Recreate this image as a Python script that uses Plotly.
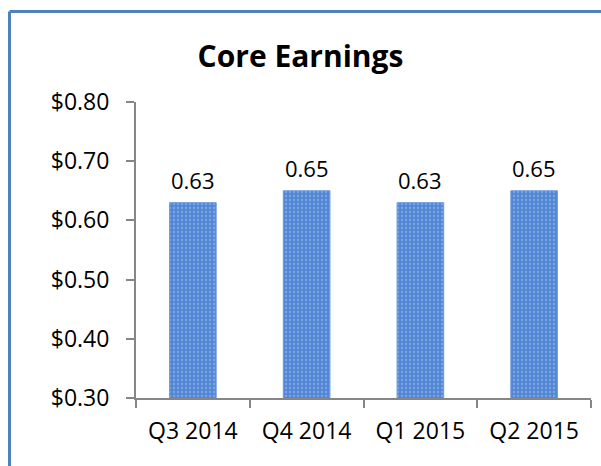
import plotly.graph_objects as go

categories = ["Q3 2014", "Q4 2014", "Q1 2015", "Q2 2015"]
values = [0.63, 0.65, 0.63, 0.65]
labels = ["0.63", "0.65", "0.63", "0.65"]
y_ticks = [0.30, 0.40, 0.50, 0.60, 0.70, 0.80]
y_ticktext = ["$0.30", "$0.40", "$0.50", "$0.60", "$0.70", "$0.80"]

L, R, T, B = 136, 10, 102, 68
W, H = 601, 466
pw, ph = W - L - R, H - T - B

fig = go.Figure(go.Bar(
    x=categories, y=values,
    width=0.41,
    marker=dict(color="#5387D6", line=dict(color="#6E9BDC", width=1),
                pattern=dict(shape=".", fgcolor="#A9C4EE", bgcolor="#5387D6",
                             size=4, solidity=0.25)),
))

for c, v, t in zip(categories, values, labels):
    fig.add_annotation(x=c, y=v, text=t, showarrow=False, yanchor="middle", yshift=23,
                       font=dict(size=22, color="#000000"))

fig.update_layout(
    width=W, height=H,
    margin=dict(l=L, r=R, t=T, b=B),
    paper_bgcolor="white", plot_bgcolor="white",
    font=dict(family="Open Sans, Liberation Sans, sans-serif", size=21, color="#000000"),
    title=dict(text="<b>Core Earnings</b>", x=0.5, xref="container", xanchor="center",
               y=1 - 56 / H, yref="container", yanchor="middle",
               font=dict(size=30, color="#000000")),
    showlegend=False,
)
fig.update_yaxes(range=[0.30, 0.80], tickvals=y_ticks, ticktext=y_ticktext,
                 showgrid=False, zeroline=False, showline=True, linecolor="#868686",
                 linewidth=2, ticks="outside", ticklen=8, tickcolor="#868686", tickwidth=2,
                 ticklabelstandoff=12, tickfont=dict(size=23))
fig.update_xaxes(showgrid=False, showline=True, linecolor="#868686", linewidth=2,
                 ticks="outside", ticklen=8, tickcolor="#868686", tickwidth=2,
                 tickson="boundaries", ticklabelstandoff=11, tickfont=dict(size=23))

bx = (9.5 - L) / pw
by = 1 + (T - 11.5) / ph
fig.add_shape(type="line", xref="paper", yref="paper", x0=bx, x1=1.2, y0=by, y1=by,
              line=dict(color="#4F81BD", width=3))
fig.add_shape(type="line", xref="paper", yref="paper", x0=bx, x1=bx, y0=by, y1=-0.5,
              line=dict(color="#4F81BD", width=3))

fig.write_html("out.html", config={"displayModeBar": False},
               post_script="document.body.style.margin='0';")
